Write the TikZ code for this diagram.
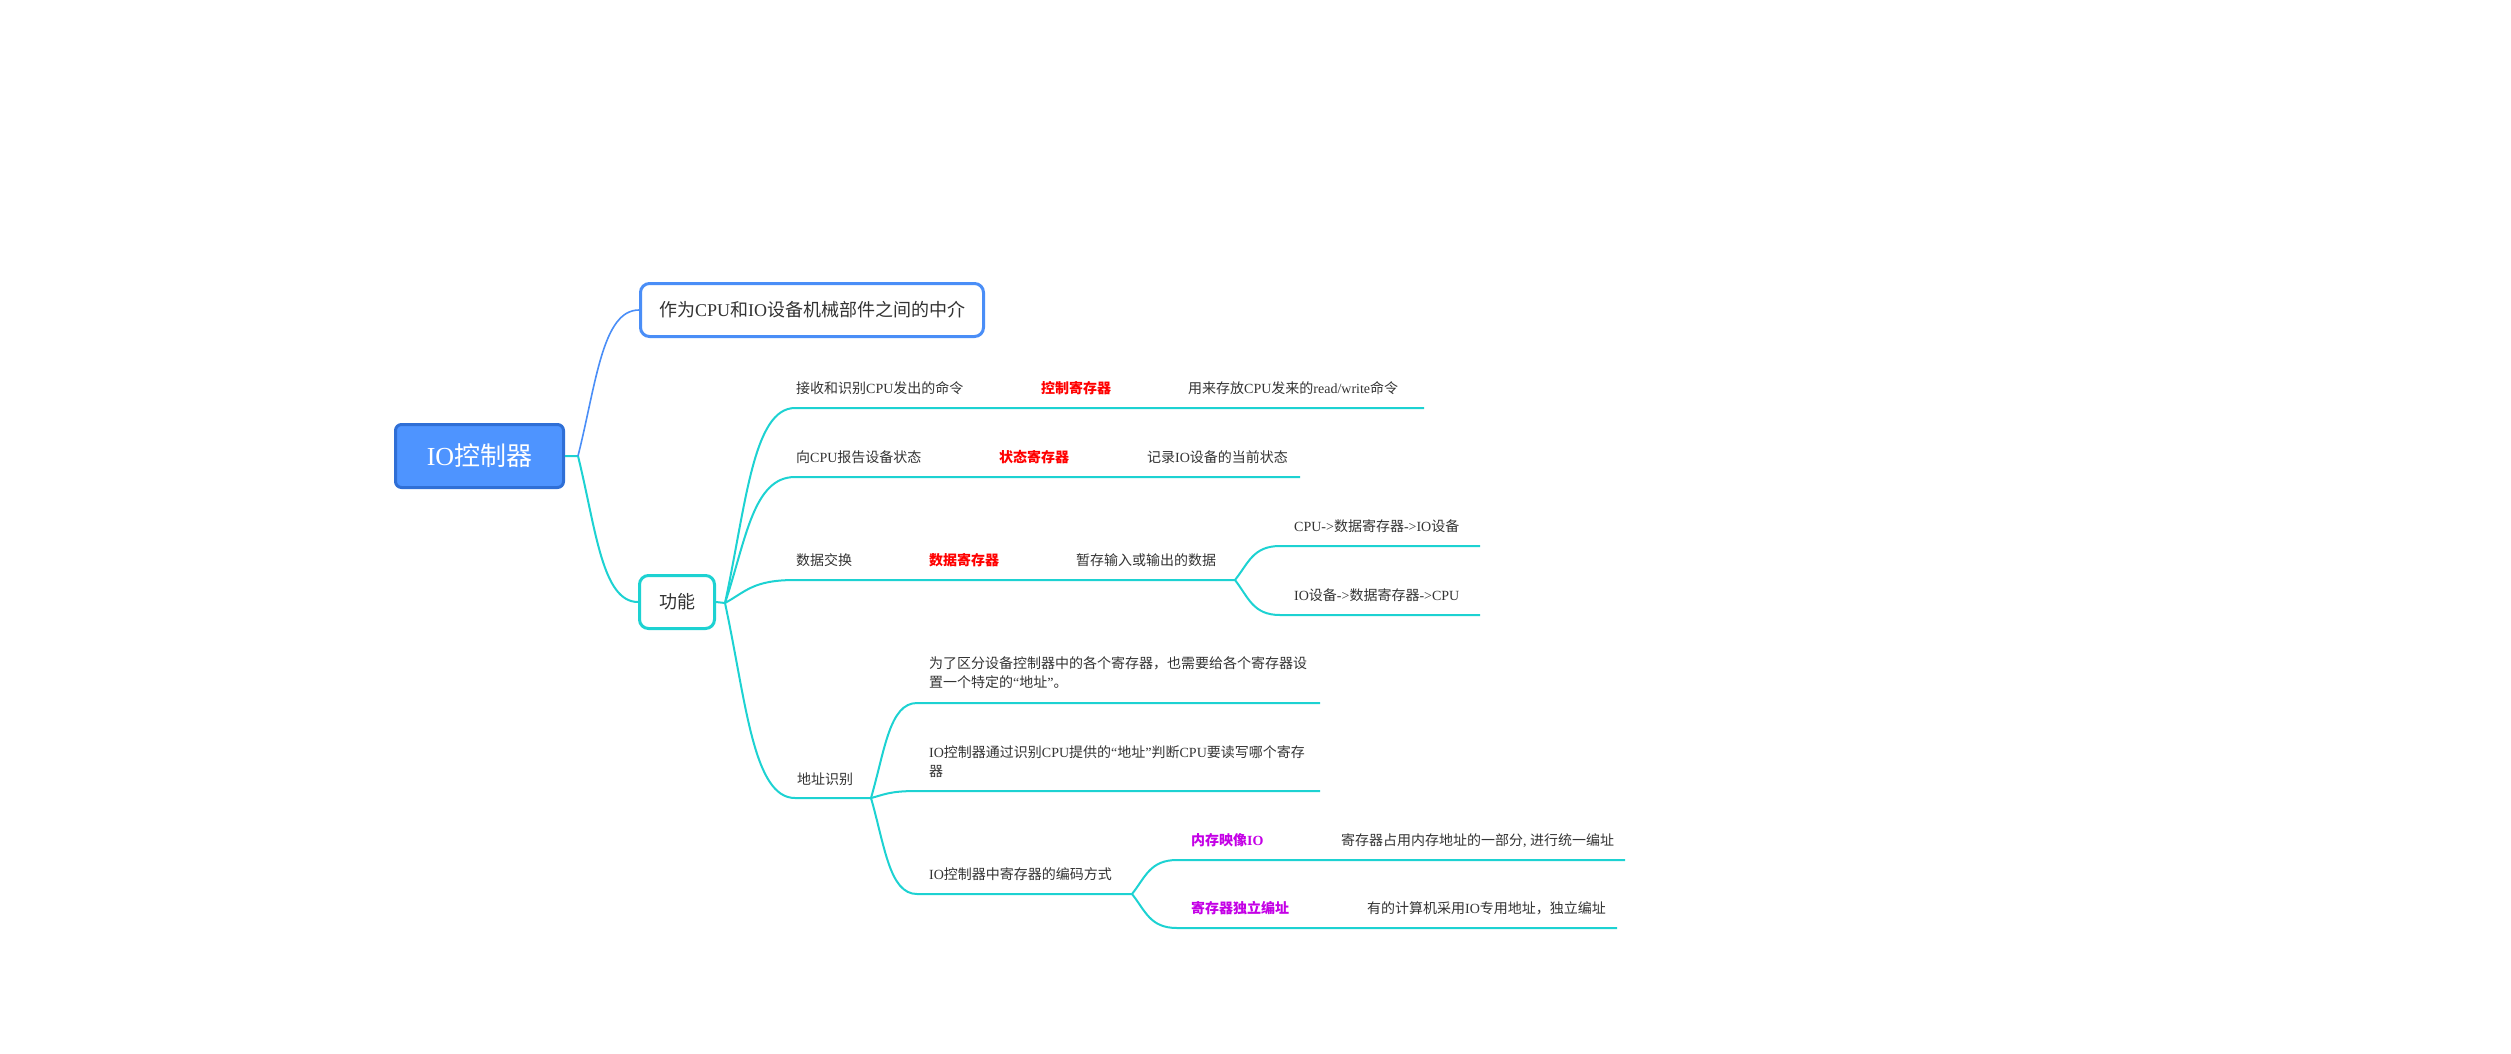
\documentclass[tikz,border=0pt]{standalone}
\usepackage{fontspec}
\setmainfont{Liberation Serif}
\newfontfamily\ioCjk{Noto Sans CJK SC}
\newXeTeXintercharclass\ioCjkClass
\newcommand{\ioCjkRange}[2]{%
  \count255=#1
  \loop\XeTeXcharclass\count255=\ioCjkClass
  \ifnum\count255<#2 \advance\count255 by 1 \repeat}
\ioCjkRange{"3000}{"303F}
\ioCjkRange{"4E00}{"9FFF}
\ioCjkRange{"FF00}{"FFEF}
\XeTeXinterchartokenstate=1
\XeTeXinterchartoks 0 \ioCjkClass = {\ioCjk}
\XeTeXinterchartoks 255 \ioCjkClass = {\ioCjk}
\XeTeXinterchartoks 4095 \ioCjkClass = {\ioCjk}
\XeTeXinterchartoks \ioCjkClass 0 = {\rmfamily}
\usetikzlibrary{calc}
\definecolor{ioRootFill}{HTML}{4E94FF}
\definecolor{ioRootLine}{HTML}{2F6FD6}
\definecolor{ioBlue}{HTML}{4A8EF7}
\definecolor{ioCyan}{HTML}{1DD2D2}
\definecolor{ioText}{HTML}{333333}
\definecolor{ioRed}{HTML}{FF0000}
\definecolor{ioPurple}{HTML}{C400E6}
\newcommand{\ioTwoLines}[2]{\parbox[t]{420pt}{#1\\#2}}

\begin{document}
\begin{tikzpicture}[x=1pt,y=-1pt,
  rootbox/.style={draw=ioRootLine, fill=ioRootFill, line width=3pt, rounded corners=6pt, minimum width=168pt, minimum height=63pt, text=white, font=\fontsize{26}{30}\selectfont},
  topbox/.style={draw=#1, fill=white, line width=3pt, rounded corners=9pt, minimum height=53pt, text=ioText, font=\fontsize{18}{22}\selectfont},
  leaf/.style={anchor=base west, inner sep=0pt, text=ioText, font=\fontsize{14}{19}\selectfont},
  redleaf/.style={leaf, text=ioRed, font=\fontsize{14}{19}\selectfont\bfseries},
  purleaf/.style={leaf, text=ioPurple, font=\fontsize{14}{19}\selectfont\bfseries},
  bluelink/.style={draw=ioBlue, line width=1.6pt},
  cyanlink/.style={draw=ioCyan, line width=2pt},
  branch/.style={to path={let \p1=(\tikztostart), \p2=(\tikztotarget) in .. controls ({\x1+0.3*(\x2-\x1)},{\y1+0.5*(\y2-\y1)}) and ({\x1+0.4*(\x2-\x1)},\y2) .. (\tikztotarget)}}]
\useasboundingbox (0,0) rectangle (2511,1053);

\node[rootbox] (root) at (479.5,456) {IO控制器};
\node[topbox=ioBlue, minimum width=343pt] (mid) at (812,310) {作为CPU和IO设备机械部件之间的中介};
\node[topbox=ioCyan, minimum width=75pt] (func) at (677,602) {功能};
\coordinate (rootj) at (578,456);
\coordinate (funcj) at (725,603);

\node[leaf] (cmd) at (796,393) {接收和识别CPU发出的命令};
\node[redleaf] (ctrlreg) at (1041,393) {控制寄存器};
\node[leaf] (ctrlnote) at (1188,393) {用来存放CPU发来的read/write命令};
\coordinate (cmdL) at (795,408);
\coordinate (cmdR) at (1424,408);

\node[leaf] (state) at (796,462) {向CPU报告设备状态};
\node[redleaf] (statereg) at (999,462) {状态寄存器};
\node[leaf] (statenote) at (1147,462) {记录IO设备的当前状态};
\coordinate (stateL) at (795,477);
\coordinate (stateR) at (1300,477);

\node[leaf] (data) at (796,565) {数据交换};
\node[redleaf] (datareg) at (929,565) {数据寄存器};
\node[leaf] (datanote) at (1076,565) {暂存输入或输出的数据};
\coordinate (dataL) at (795,580);
\coordinate (dataj) at (1235,580);
\node[leaf] (dataout) at (1294,531) {CPU->数据寄存器->IO设备};
\coordinate (dataoutL) at (1280,546);
\coordinate (dataoutR) at (1480,546);
\node[leaf] (datain) at (1294,600) {IO设备->数据寄存器->CPU};
\coordinate (datainL) at (1280,615);
\coordinate (datainR) at (1480,615);

\node[leaf] (addr) at (797,784) {地址识别};
\coordinate (addrL) at (795,798);
\coordinate (addrj) at (871,798);
\node[leaf] (addrwhy) at (929,668) {\ioTwoLines{为了区分设备控制器中的各个寄存器，也需要给各个寄存器设}{置一个特定的“地址”。}};
\coordinate (addrwhyL) at (917,703);
\coordinate (addrwhyR) at (1320,703);
\node[leaf] (addrhow) at (929,757) {\ioTwoLines{IO控制器通过识别CPU提供的“地址”判断CPU要读写哪个寄存}{器}};
\coordinate (addrhowL) at (917,791);
\coordinate (addrhowR) at (1320,791);
\node[leaf] (code) at (929,879) {IO控制器中寄存器的编码方式};
\coordinate (codeL) at (917,894);
\coordinate (codej) at (1132,894);
\node[purleaf] (memio) at (1191,845) {内存映像IO};
\node[leaf] (memnote) at (1341,845) {寄存器占用内存地址的一部分, 进行统一编址};
\coordinate (memioL) at (1177,860);
\coordinate (memioR) at (1625,860);
\node[purleaf] (ownio) at (1191,913) {寄存器独立编址};
\node[leaf] (ownnote) at (1367,913) {有的计算机采用IO专用地址，独立编址};
\coordinate (ownioL) at (1177,928);
\coordinate (ownioR) at (1617,928);

\draw[cyanlink] (root.east) -- (rootj) to[branch] (func.west);
\draw[bluelink] (rootj) to[branch] (mid.west);
\draw[cyanlink] (func.east) -- (funcj);
\draw[cyanlink] (funcj) to[branch] (cmdL) -- (cmdR);
\draw[cyanlink] (funcj) to[branch] (stateL) -- (stateR);
\draw[cyanlink] (funcj) to[branch] (dataL) -- (dataj);
\draw[cyanlink] (dataj) to[branch] (dataoutL) -- (dataoutR);
\draw[cyanlink] (dataj) to[branch] (datainL) -- (datainR);
\draw[cyanlink] (funcj) to[branch] (addrL) -- (addrj);
\draw[cyanlink] (addrj) to[branch] (addrwhyL) -- (addrwhyR);
\draw[cyanlink] (addrj) to[branch] (addrhowL) -- (addrhowR);
\draw[cyanlink] (addrj) to[branch] (codeL) -- (codej);
\draw[cyanlink] (codej) to[branch] (memioL) -- (memioR);
\draw[cyanlink] (codej) to[branch] (ownioL) -- (ownioR);
\end{tikzpicture}
\end{document}
